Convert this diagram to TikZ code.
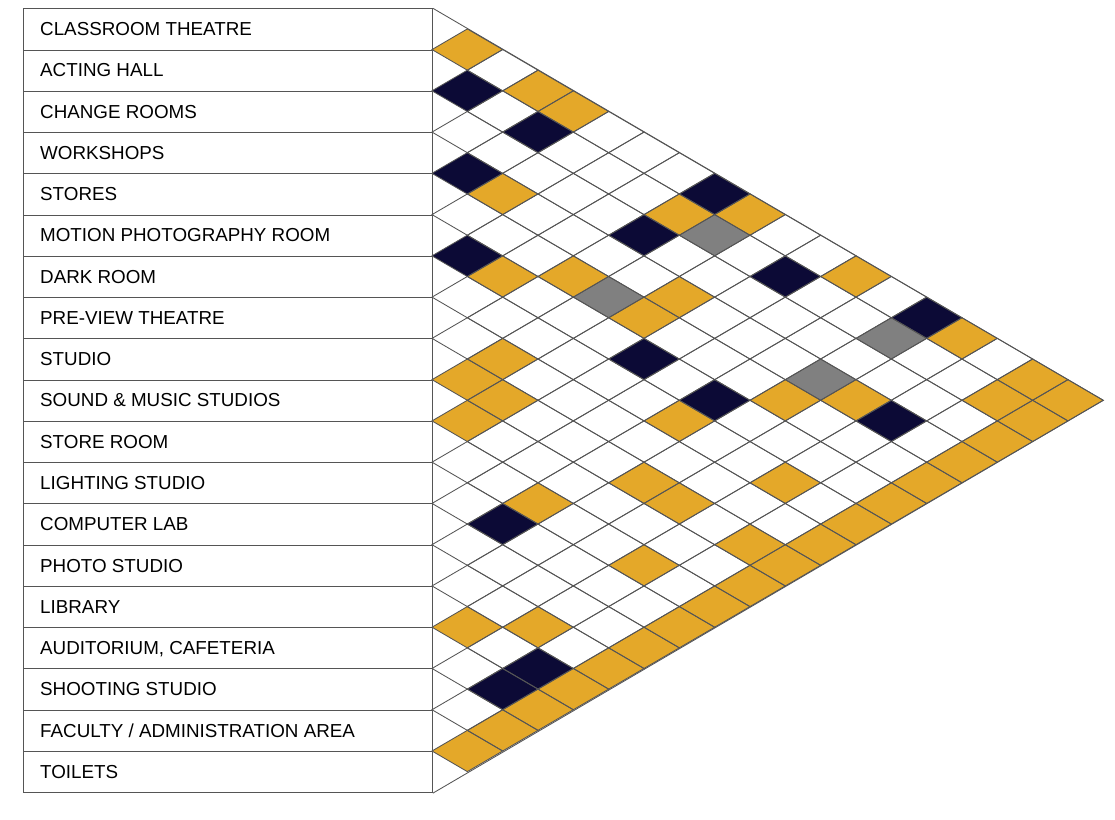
\documentclass[tikz,border=0pt]{standalone}
\usepackage{fontspec}
\setmainfont{Liberation Sans}
\definecolor{orng}{HTML}{E4A829}
\definecolor{navy}{HTML}{0C0A36}
\definecolor{midgray}{HTML}{808080}
\definecolor{gridc}{HTML}{555555}
\newcommand{\mcell}[3]{%
  \pgfmathsetmacro{\cx}{432+(#2-#1)*35.33}%
  \pgfmathsetmacro{\cy}{8.3+41.26*(#1+#2+1)/2}%
  \fill[#3] (\cx-35.33,\cy) -- (\cx,\cy-20.63) -- (\cx+35.33,\cy) -- (\cx,\cy+20.63) -- cycle;}
\tikzset{
  rowbox/.style={draw=gridc, line width=0.9pt, minimum width=409pt, minimum height=41.26pt, inner sep=0pt, anchor=north west},
  rowtext/.style={anchor=base west, inner sep=0pt, font=\fontsize{18.8}{22}\selectfont, text=black},
  gridline/.style={draw=gridc, line width=0.85pt},
}
\begin{document}
\begin{tikzpicture}[x=1pt,y=-1pt]
\useasboundingbox (0,0) rectangle (1115,819);
\fill[white] (0,0) rectangle (1115,819);
% label boxes
\foreach \t [count=\k from 0] in {{CLASSROOM THEATRE},{ACTING HALL},{CHANGE ROOMS},{WORKSHOPS},{STORES},{MOTION PHOTOGRAPHY ROOM},{DARK ROOM},{PRE-VIEW THEATRE},{STUDIO},{SOUND \& MUSIC STUDIOS},{STORE ROOM},{LIGHTING STUDIO},{COMPUTER LAB},{PHOTO STUDIO},{LIBRARY},{AUDITORIUM, CAFETERIA},{SHOOTING STUDIO},{FACULTY / ADMINISTRATION AREA},{TOILETS}}{
  \node[rowbox] (r\k) at (23,{8.3+41.26*\k}) {};
  \node[rowtext] (t\k) at (40,{8.3+41.26*(\k+0.5)+6.7}) {\t};
}
% coloured cells
\foreach \a/\b in {0/1,0/3,0/4,3/5,1/8,0/9,5/7,4/8,3/10,4/10,0/12,7/9,8/9,8/10,9/10,6/13,4/14,3/15,0/15,0/17,1/17,8/14,8/15,10/13,6/16,10/16,8/17,14/15,13/16}{\mcell{\a}{\b}{orng}}
\foreach \a in {0,...,17}{\mcell{\a}{18}{orng}}
\foreach \a/\b in {1/2,1/4,3/4,0/8,2/8,5/6,1/11,0/14,5/11,5/13,3/16,11/13,14/17,15/17}{\mcell{\a}{\b}{navy}}
\foreach \a/\b in {1/9,4/9,1/14,3/14}{\mcell{\a}{\b}{midgray}}
% grid
\foreach \i in {0,...,17}{
  \pgfmathtruncatemacro{\js}{\i+1}
  \foreach \j in {\js,...,18}{
    \pgfmathsetmacro{\cx}{432+(\j-\i)*35.33}
    \pgfmathsetmacro{\cy}{8.3+41.26*(\i+\j+1)/2}
    \draw[gridline] (\cx-35.33,\cy) -- (\cx,\cy-20.63) -- (\cx+35.33,\cy) -- (\cx,\cy+20.63) -- cycle;
  }
}
\coordinate (apex) at (1103.3,400.3);
\draw[gridline] (r0.north east) -- (apex) -- (r18.south east);
\end{tikzpicture}
\end{document}
